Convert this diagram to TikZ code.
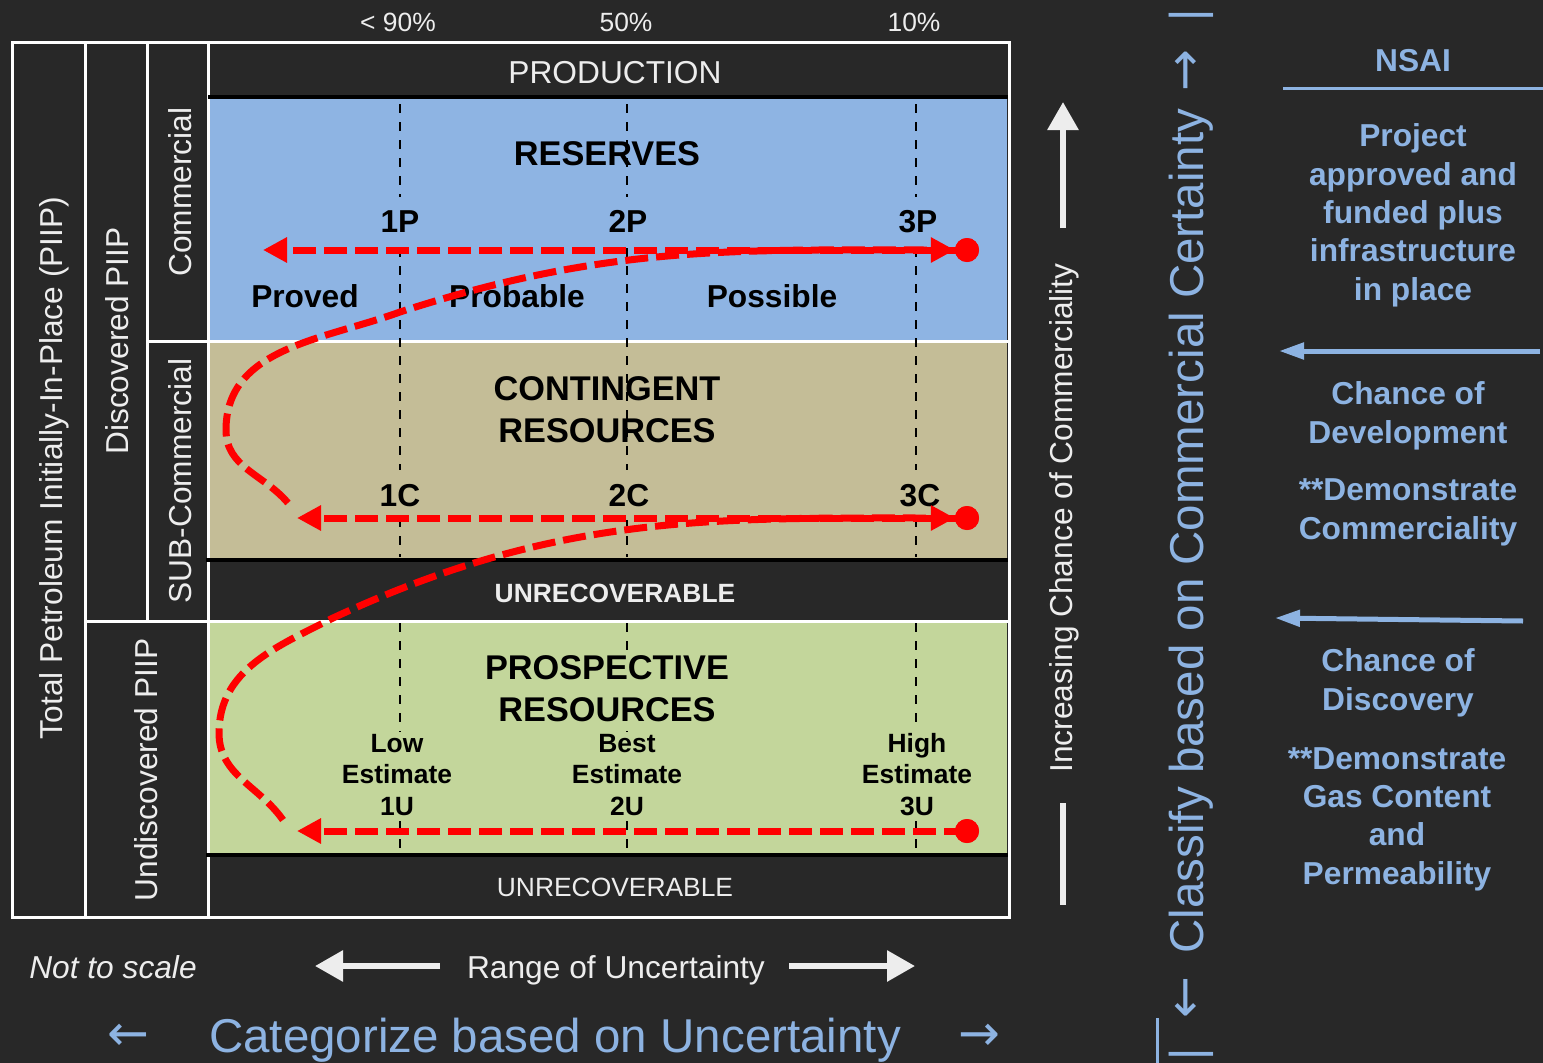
\documentclass[tikz,border=0pt]{standalone}
\usepackage{fontspec}
\setmainfont{Liberation Sans}
\newfontfamily\arrowfont{DejaVu Sans}
\usetikzlibrary{arrows.meta}
\definecolor{bg}{HTML}{282828}
\definecolor{resblue}{HTML}{8EB4E3}
\definecolor{contan}{HTML}{C4BD97}
\definecolor{prosgreen}{HTML}{C3D69B}
\definecolor{nsai}{HTML}{8DB3E2}
\definecolor{txt}{HTML}{EDEDED}
\begin{document}
\begin{tikzpicture}[x=1pt,y=1pt]
\tikzstyle{op}=[red,line width=7pt,dash pattern=on 23pt off 8pt,-{Triangle[length=24pt,width=24pt]}]
\tikzstyle{grid}=[white,line width=3pt]
\tikzstyle{sep}=[black,line width=4pt]
\tikzstyle{est}=[black,line width=2.5pt,dash pattern=on 9pt off 9pt]
\tikzstyle{big}=[font=\bfseries\fontsize{34.3}{42}\selectfont,align=center,anchor=base]
\tikzstyle{lbl}=[font=\bfseries\fontsize{31.7}{38}\selectfont,anchor=base,inner xsep=2pt]
\tikzstyle{small}=[font=\bfseries\fontsize{26.4}{31.5}\selectfont,align=center,anchor=base]
\tikzstyle{side}=[text=txt,font=\fontsize{31.7}{38}\selectfont,rotate=90,anchor=base]
\tikzstyle{note}=[text=nsai,font=\bfseries\fontsize{31.7}{38.3}\selectfont,align=center,anchor=base]
\tikzstyle{huge}=[text=nsai,font=\fontsize{47.5}{56}\selectfont,anchor=base]
\tikzstyle{harrow}=[text=nsai,font=\arrowfont\fontsize{50}{56}\selectfont,anchor=base]
\tikzstyle{warrow}=[txt,line width=6pt,-{Triangle[length=28pt,width=30pt]}]
\tikzstyle{barrow}=[nsai,line width=5pt,-{Triangle[length=25pt,width=16pt]}]
\tikzstyle{dot}=[circle,fill=red,minimum size=24pt,inner sep=0pt]

% background and bands
\useasboundingbox (0,0) rectangle (1543,-1063);
\clip (0,0) rectangle (1543,-1063);
\fill[bg] (0,0) rectangle (1543,-1063);
\fill[resblue] (209,-98) rectangle (1007,-340);
\fill[contan] (209,-342) rectangle (1007,-560);
\fill[prosgreen] (209,-621) rectangle (1007,-855);

% table lines
\draw[grid] (12,-42) rectangle (1009,-917);
\draw[grid] (85,-42) -- (85,-917);
\draw[grid] (147,-42) -- (147,-621);
\draw[grid] (208,-42) -- (208,-917);
\draw[grid] (147,-341) -- (1009,-341);
\draw[grid] (85,-621) -- (1009,-621);
\draw[sep] (208,-97) -- (1008,-97);
\draw[sep] (206,-560) -- (1008,-560);
\draw[sep] (206,-855) -- (1008,-855);

\foreach \x in {400,627,916}{
  \draw[est] (\x,-104) -- (\x,-557);
  \draw[est] (\x,-623) -- (\x,-852);
}

% top percentages
\node (p90) at (398,-31) [anchor=base,text=txt,font=\fontsize{26.4}{32}\selectfont]{< 90\%};
\node (p50) at (626,-31) [anchor=base,text=txt,font=\fontsize{26.4}{32}\selectfont]{50\%};
\node (p10) at (914,-31) [anchor=base,text=txt,font=\fontsize{26.4}{32}\selectfont]{10\%};

\node (prod) at (615,-83) [anchor=base,text=txt,font=\fontsize{31.7}{38}\selectfont]{PRODUCTION};

% reserves
\node (res) at (607,-165) [big]{RESERVES};
\node (1P) at (400,-232) [lbl,fill=resblue,inner ysep=13pt]{1P};
\node (2P) at (628,-232) [lbl,fill=resblue,inner ysep=13pt]{2P};
\node (3P) at (918,-232) [lbl,fill=resblue,inner ysep=13pt]{3P};
\node (prov) at (305,-307) [lbl]{Proved};
\node (prob) at (517,-307) [lbl]{Probable};
\node (poss) at (772,-307) [lbl]{Possible};

% contingent
\node (cont) at (607,-442) [big]{CONTINGENT\\RESOURCES};
\node (1C) at (400,-506) [lbl,fill=contan,inner ysep=14pt]{1C};
\node (2C) at (629,-506) [lbl,fill=contan,inner ysep=14pt]{2C};
\node (3C) at (920,-506) [lbl,fill=contan,inner ysep=14pt]{3C};
\node (unr1) at (615,-602) [small,text=txt]{UNRECOVERABLE};

% prospective
\node (pros) at (607,-721) [big,fill=prosgreen,inner sep=1pt]{PROSPECTIVE\\RESOURCES};
\node (1U) at (397,-815) [small,fill=prosgreen,inner sep=2pt]{Low\\Estimate\\1U};
\node (2U) at (627,-815) [small,fill=prosgreen,inner sep=2pt]{Best\\Estimate\\2U};
\node (3U) at (917,-815) [small,fill=prosgreen,inner sep=2pt]{High\\Estimate\\3U};
\node (unr2) at (615,-896) [anchor=base,text=txt,font=\fontsize{26.4}{32}\selectfont]{UNRECOVERABLE};

% side headings
\node (piip) at (62,-468) [side]{Total Petroleum Initially-In-Place (PIIP)};
\node (disc) at (128,-341) [side]{Discovered PIIP};
\node (comm) at (191,-192) [side]{Commercial};
\node (sub) at (191,-481) [side]{SUB-Commercial};
\node (undisc) at (157,-770) [side]{Undiscovered PIIP};
\node (incr) at (1072,-518) [side]{Increasing Chance of Commerciality};

% red flow
\node (d3P) at (967,-250) [dot]{};
\node (d3C) at (967,-518) [dot]{};
\node (d3U) at (967,-831) [dot]{};
\coordinate (e1P) at (263,-250);
\coordinate (e1C) at (297,-518);
\coordinate (e1U) at (297,-831);
\coordinate (s1C) at (288,-503);
\coordinate (s1U) at (283,-820);
\draw[op] (d3P.center) -- (e1P);
\draw[op] (d3C.center) -- (e1C);
\draw[op] (d3U.center) -- (e1U);
\draw[op] (s1C) to[out=130,in=270] (226,-430) to[out=90,in=200] (400,-312) to[out=18,in=180] (d3P.west);
\draw[op] (s1U) to[out=125,in=270] (219,-733) to[out=90,in=207] (333,-618) to[out=25,in=180] (d3C.west);
\node at (d3P) [dot]{};
\node at (d3C) [dot]{};
\node at (d3U) [dot]{};

% commerciality arrow
\coordinate (upA) at (1063,-228);
\coordinate (upB) at (1063,-102);
\coordinate (dnA) at (1063,-803);
\coordinate (dnB) at (1063,-905);
\draw[warrow] (upA) -- (upB);
\draw[txt,line width=6pt] (dnA) -- (dnB);

% bottom row
\node (nts) at (113,-978) [anchor=base,text=txt,font=\itshape\fontsize{31.7}{38}\selectfont]{Not to scale};
\node (rng) at (616,-978) [anchor=base,text=txt,font=\fontsize{31.7}{38}\selectfont]{Range of Uncertainty};
\coordinate (rLa) at (440,-966);
\coordinate (rL) at (315,-966);
\coordinate (rRa) at (789,-966);
\coordinate (rR) at (915,-966);
\draw[warrow] (rLa) -- (rL);
\draw[warrow] (rRa) -- (rR);
\node (cat) at (555,-1052) [huge]{Categorize based on Uncertainty};
\node (catL) at (128,-1050) [harrow]{←};
\node (catR) at (979,-1050) [harrow]{→};

% classify column
\node (cls) at (1203,-531) [huge,rotate=90]{Classify based on Commercial Certainty};
\node (clsU) at (1201,-71) [harrow,rotate=90]{→};
\node (clsD) at (1201,-998) [harrow,rotate=90]{←};
\node (barT) at (1203,-15) [huge,rotate=90]{|};
\node (barB) at (1203,-1054) [huge,rotate=90]{|};
\draw[nsai,line width=3pt] (1157,-1018) -- (1157,-1063);

% NSAI column
\node (ns) at (1413,-71) [note]{NSAI};
\coordinate (nsL) at (1283,-88);
\coordinate (nsR) at (1543,-88);
\draw[nsai,line width=3pt] (nsL) -- (nsR);
\node (proj) at (1413,-300) [note]{Project\\approved and\\funded plus\\infrastructure\\in place};
\coordinate (a1R) at (1540,-351);
\coordinate (a1L) at (1279,-351);
\draw[barrow] (a1R) -- (a1L);
\node (dev) at (1408,-443) [note]{Chance of\\Development};
\node (dcom) at (1408,-539) [note]{**Demonstrate\\Commerciality};
\coordinate (a2R) at (1523,-621);
\coordinate (a2L) at (1275,-618);
\draw[barrow] (a2R) -- (a2L);
\node (dis) at (1398,-710) [note]{Chance of\\Discovery};
\node (dgas) at (1397,-884) [note]{**Demonstrate\\Gas Content\\and\\Permeability};
\end{tikzpicture}
\end{document}
